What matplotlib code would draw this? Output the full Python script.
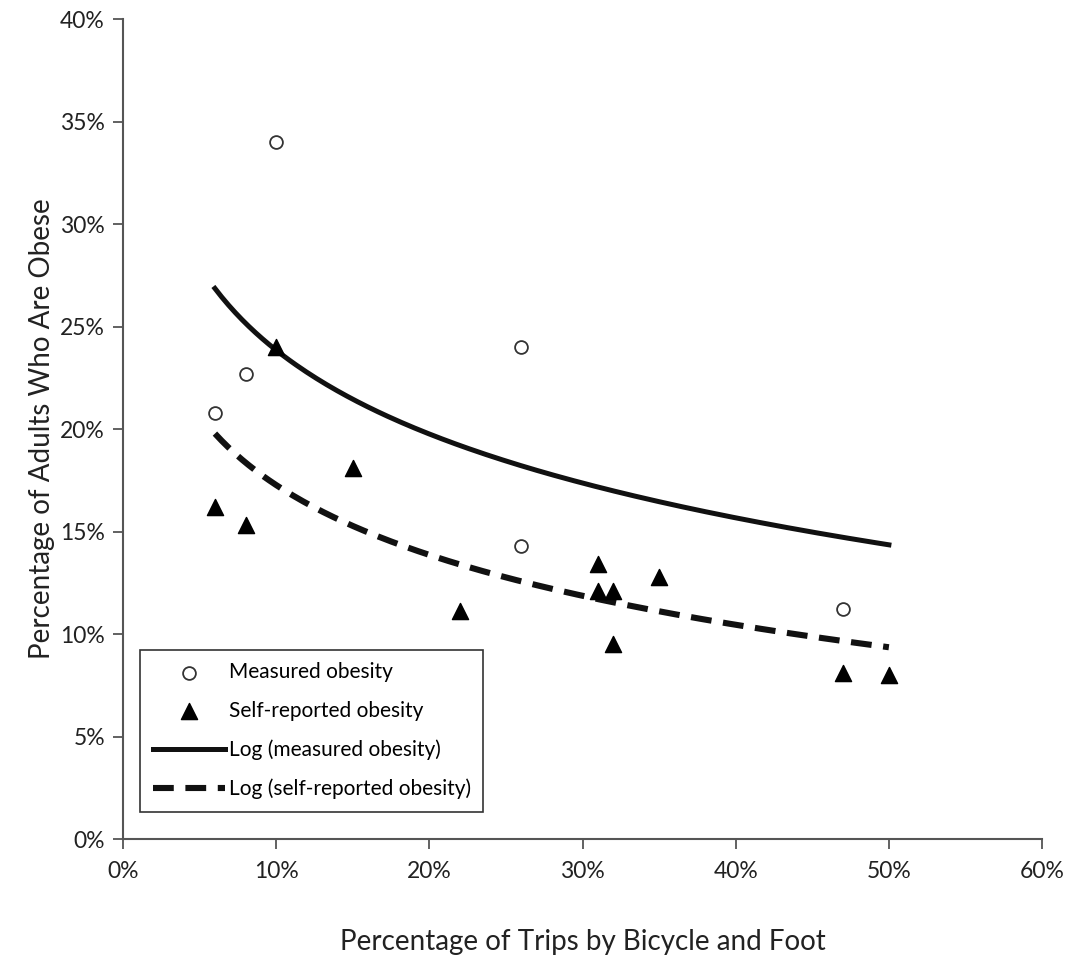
import numpy as np
import matplotlib
matplotlib.use("Agg")
import matplotlib.pyplot as plt
from matplotlib.ticker import FuncFormatter

plt.rcParams["font.family"] = ["Lato", "DejaVu Sans"]

# trips by bicycle and foot (%) vs adults obese (%)
meas_x = [6, 8, 10, 26, 26, 47]
meas_y = [20.8, 22.7, 34.0, 24.0, 14.3, 11.2]
self_x = [6, 8, 10, 15, 22, 31, 31, 32, 35, 32, 47, 50]
self_y = [16.2, 15.3, 24.0, 18.1, 11.1, 13.4, 12.1, 12.1, 12.8, 9.5, 8.1, 8.0]
x_ticks = [0, 10, 20, 30, 40, 50, 60]
y_ticks = [0, 5, 10, 15, 20, 25, 30, 35, 40]

AX_C = "#555555"
TXT_C = "#222222"

# trendlines span the full range of observed trip shares
x_lo = min(meas_x + self_x)
x_hi = max(meas_x + self_x)


def log_fit(x, y):
    b, a = np.polyfit(np.log(x), y, 1)
    xs = np.linspace(x_lo, x_hi, 200)
    return xs, a + b * np.log(xs)


fig = plt.figure(figsize=(10.68, 9.6), dpi=100)
ax = fig.add_axes([0.1152, 0.126, 0.8605, 0.8542])

ax.scatter(meas_x, meas_y, marker="o", s=85, facecolors="white", edgecolors="#333333",
           linewidths=1.3, label="Measured obesity", zorder=3)
ax.scatter(self_x, self_y, marker="^", s=135, color="black", label="Self-reported obesity", zorder=3)
xs, ys = log_fit(meas_x, meas_y)
ax.plot(xs, ys, color="#111111", lw=3.6, label="Log (measured obesity)", zorder=2)
xs, ys = log_fit(self_x, self_y)
ax.plot(xs, ys, color="#111111", lw=4.4, ls=(0, (3.4, 1.9)), label="Log (self-reported obesity)", zorder=2)

ax.set_xlim(0, 60); ax.set_ylim(0, 40)
ax.set_xticks(x_ticks); ax.set_yticks(y_ticks)
pct = FuncFormatter(lambda v, _: f"{int(v)}%")
ax.xaxis.set_major_formatter(pct); ax.yaxis.set_major_formatter(pct)
for s in ("top", "right"):
    ax.spines[s].set_visible(False)
for s in ("left", "bottom"):
    ax.spines[s].set_color(AX_C); ax.spines[s].set_linewidth(1.5)
ax.tick_params(direction="out", length=7, width=1.3, color=AX_C, labelsize=16.5,
               labelcolor=TXT_C)
ax.tick_params(axis="x", pad=9)
ax.tick_params(axis="y", pad=6)

ax.set_xlabel("Percentage of Trips by Bicycle and Foot", fontsize=20, labelpad=34, color=TXT_C)
ax.set_ylabel("Percentage of Adults Who Are Obese", fontsize=20, labelpad=4, color=TXT_C)

leg = ax.legend(loc="lower left", bbox_to_anchor=(0.0185, 0.033), fontsize=15, fancybox=False,
                framealpha=1, edgecolor="#333333", handlelength=3.5, labelspacing=0.9,
                borderpad=0.6, handletextpad=0.15, borderaxespad=0)
leg.get_frame().set_linewidth(1.2)

fig.savefig("out.png", dpi=100)
